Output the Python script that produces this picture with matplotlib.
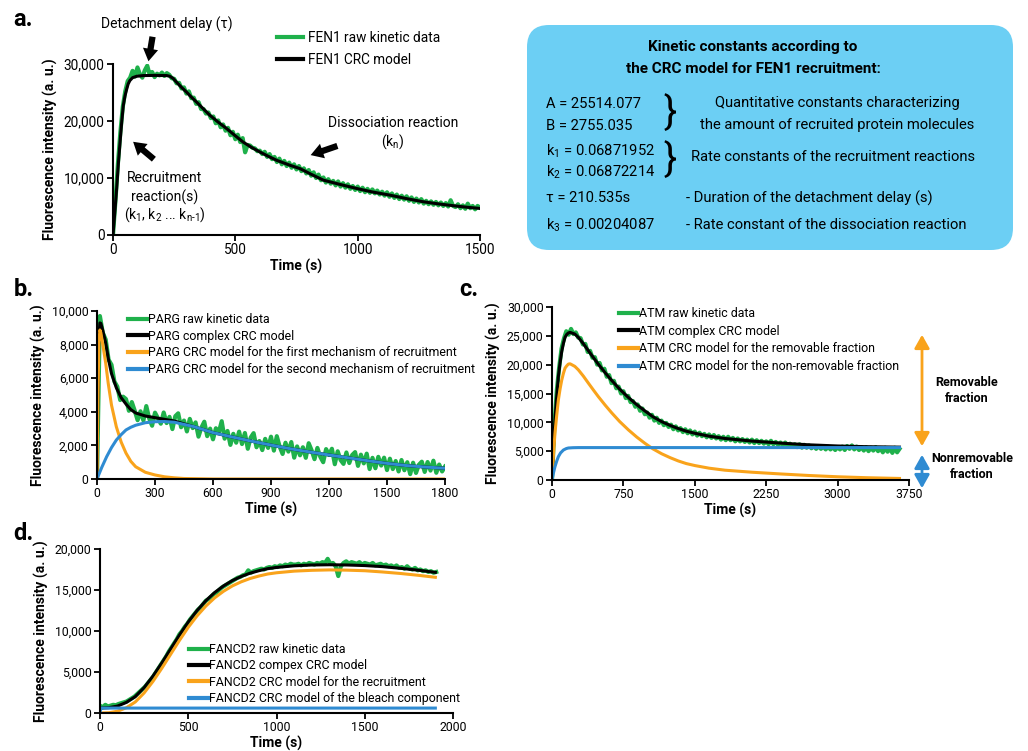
import numpy as np
import matplotlib
matplotlib.use("Agg")
import matplotlib.pyplot as plt
from matplotlib.patches import FancyBboxPatch, FancyArrowPatch
from matplotlib.lines import Line2D

# ------------------------------------------------------------------ data
GREEN = '#1fb14b'; BLACK = '#000000'; ORANGE = '#f9a31b'; BLUE = '#2f8bd2'; BOXC = '#6ccff4'

# a. FEN1
fen1_raw_t = np.arange(0, 1501, 10)
fen1_raw = [
    0, 6000, 12500, 18000, 22500, 25200, 27000, 27600, 28800, 27800,
    29400, 28200, 27600, 28900, 29700, 28100, 28600, 27700, 28300, 28000,
    28500, 27900, 28400, 28100, 27500, 27400, 26600, 26700, 25700, 25900,
    24800, 25200, 24000, 24100, 23000, 23300, 22100, 22100, 21300, 21500,
    20500, 20800, 19600, 20100, 18900, 19400, 18300, 18800, 17500, 18100,
    16800, 17600, 16300, 17000, 14500, 15800, 15700, 15300, 15200, 14700,
    14800, 14200, 14600, 13700, 14200, 13300, 13700, 12800, 13400, 12400,
    13000, 12100, 12700, 11800, 12400, 11500, 12100, 11200, 11700, 10800,
    11400, 10400, 11000, 10000, 10600, 9600, 10100, 9200, 9800, 9000,
    9500, 8700, 9400, 8500, 9100, 8300, 8900, 8100, 8600, 7900,
    8500, 7700, 8300, 7500, 8100, 7400, 8000, 7300, 7800, 7100,
    7600, 6900, 7500, 6700, 7300, 6500, 7100, 6300, 6900, 6200,
    6800, 6000, 6600, 5800, 6400, 5700, 6300, 5500, 6000, 5400,
    5900, 5300, 5800, 5200, 5700, 5100, 5600, 5000, 6100, 5100,
    4900, 5400, 4700, 5200, 4600, 5500, 4700, 5100, 4500, 5100,
    4800]
fen1_model_t = [0, 8, 15, 22, 30, 36, 42, 49, 56, 62, 69, 80, 97, 124, 170, 219, 232, 245,
                260, 280, 301, 320, 342, 370, 396, 430, 465, 500, 532, 565, 601, 635, 669,
                723, 764, 810, 860, 930, 996, 1060, 1132, 1200, 1268, 1335, 1405, 1450, 1500]
fen1_model = [0, 4300, 8200, 12600, 16900, 20000, 22700, 24400, 25600, 26500, 27100, 27600,
              27850, 27970, 28000, 27970, 27850, 27500, 26800, 25900, 25050, 24200, 23300,
              22100, 21000, 19800, 18650, 17400, 16300, 15400, 14550, 13800, 13100, 12240,
              11650, 10650, 9620, 8850, 8160, 7550, 6990, 6380, 5830, 5430, 5070, 4860, 4660]

# b. PARG
parg_raw_t = np.arange(0, 1801, 15)
parg_raw = [
    0, 9700, 8700, 8300, 7100, 6800, 5800, 5500, 4700, 4900,
    4760, 4060, 4580, 4070, 3500, 4030, 3480, 4340, 3600, 3170,
    3950, 3620, 3290, 3960, 3330, 3700, 2970, 3740, 3910, 3080,
    3480, 2830, 3580, 3030, 3370, 2520, 3060, 3410, 2550, 3000,
    2360, 3020, 2780, 3440, 2400, 2860, 2030, 2690, 2160, 2820,
    2080, 2740, 1800, 2470, 2730, 1890, 2260, 1720, 2390, 1850,
    2520, 1690, 2550, 1920, 1490, 2160, 1630, 2200, 1270, 1940,
    1410, 1890, 1260, 2130, 1710, 1180, 1850, 1320, 1000, 1780,
    1430, 1800, 880, 1650, 1130, 900, 1580, 950, 1430, 1600,
    780, 1450, 930, 1510, 590, 1260, 640, 1320, 800, 1270,
    530, 1210, 590, 1070, 450, 1130, 520, 1000, 290, 970,
    360, 850, 1030, 420, 1010, 500, 1090, 370, 860, 450,
    740]
parg_model_t = [0, 5, 10, 15, 20, 30, 45, 58, 75, 100, 125, 150, 175, 200, 250, 300, 350, 400,
                450, 500, 600, 700, 800, 900, 1000, 1100, 1200, 1300, 1400, 1500, 1600, 1700, 1800]
parg_model = [0, 5140, 8480, 9290, 9260, 8840, 8100, 7200, 6270, 5430, 4840, 4460, 4130, 3930,
              3750, 3650, 3550, 3450, 3280, 3120, 2760, 2500, 2250, 2020, 1800, 1610, 1430,
              1260, 1090, 930, 800, 710, 640]
parg_first_t = [0, 5, 10, 15, 20, 30, 45, 58, 75, 100, 125, 150, 175, 200, 250, 300, 350, 400,
                450, 600, 1800]
parg_first = [0, 5000, 8200, 8870, 8700, 8000, 6900, 5700, 4400, 3110, 2200, 1540, 1050, 730,
              400, 240, 130, 70, 30, 0, 0]
parg_second_t = [0, 25, 50, 75, 100, 125, 150, 175, 200, 250, 300, 350, 400, 500, 600, 700, 800,
                 900, 1000, 1100, 1200, 1300, 1400, 1500, 1600, 1700, 1800]
parg_second = [0, 700, 1330, 1870, 2320, 2640, 2920, 3080, 3200, 3350, 3410, 3420, 3380, 3120,
               2760, 2500, 2250, 2020, 1800, 1610, 1430, 1260, 1090, 930, 800, 710, 640]

# c. ATM
atm_raw_t = np.arange(0, 3651, 25)
atm_raw = [
    0, 9500, 15500, 19500, 22800, 24500, 25800, 25200, 26200, 25300,
    25600, 24700, 24600, 23500, 23600, 22200, 22400, 21200, 21300, 20000,
    20300, 19000, 19300, 17900, 18200, 16800, 17200, 15900, 16200, 15000,
    15400, 14200, 14600, 13500, 13700, 12700, 13100, 12000, 12400, 11400,
    11700, 10800, 11300, 10300, 10800, 9900, 10300, 9500, 9900, 9200,
    9600, 8800, 9300, 8600, 9000, 8300, 8800, 8100, 8600, 7900,
    8400, 7700, 8200, 7600, 8000, 7400, 7900, 7300, 7800, 7200,
    7600, 7000, 7500, 6900, 7500, 6900, 7300, 6700, 7200, 6700,
    7100, 6600, 7000, 6500, 7000, 6400, 6900, 6400, 6800, 6300,
    6700, 6200, 6800, 6200, 6600, 6100, 6500, 6000, 6500, 5900,
    6300, 5800, 6200, 5700, 6200, 5600, 6100, 5600, 6000, 5500,
    5900, 5400, 5900, 5400, 5800, 5300, 5800, 5300, 5700, 5200,
    5700, 5300, 5800, 5200, 5900, 5400, 6000, 5300, 5800, 5200,
    5700, 5100, 5700, 5000, 5600, 5100, 5700, 5000, 5500, 4800,
    5600, 4900, 5500, 4700, 5600, 4800, 5400]
atm_model_t = [0, 15, 31, 50, 67, 85, 102, 120, 137, 155, 172, 190, 207, 240, 277, 330, 382, 435,
               487, 560, 627, 710, 802, 890, 977, 1060, 1152, 1240, 1327, 1410, 1502, 1650, 1817,
               2100, 2400, 2700, 3000, 3300, 3650]
atm_model = [0, 5500, 10400, 14600, 17950, 20350, 22250, 23700, 24750, 25250, 25500, 25600,
             25500, 25310, 24720, 23620, 22420, 21220, 20070, 18570, 17270, 15770, 14320, 13070,
             11970, 10970, 10120, 9470, 8920, 8470, 8100, 7600, 7200, 6750, 6400, 6100, 5900,
             5780, 5700]
atm_removable = [0, 4300, 8100, 11300, 13900, 15800, 17300, 18500, 19400, 19800, 20100, 20150,
                 20000, 19700, 19100, 18000, 16800, 15600, 14450, 12950, 11650, 10150, 8700,
                 7450, 6350, 5400, 4550, 3880, 3300, 2850, 2500, 2050, 1700, 1350, 1050, 780,
                 560, 400, 270]
atm_nonrem_t = [0, 15, 31, 50, 67, 90, 120, 150, 172, 220, 277, 3650]
atm_nonrem = [0, 1200, 2300, 3300, 4050, 4700, 5200, 5450, 5550, 5600, 5620, 5620]

# d. FANCD2
fancd2_raw_t = np.arange(0, 1906, 15)
fancd2_raw = [
    900, 700, 1000, 800, 900, 1000, 950, 1100, 1200, 1300,
    1400, 1600, 1800, 2000, 2300, 2600, 2900, 3200, 3600, 4000,
    4400, 4900, 5400, 5900, 6400, 6900, 7500, 8000, 8500, 9000,
    9600, 10000, 10500, 10900, 11400, 11800, 12200, 12600, 12900, 13300,
    13700, 13900, 14200, 14500, 14700, 15000, 15300, 15500, 15700, 15900,
    16100, 16300, 16500, 16600, 16800, 16900, 17400, 17100, 17300, 17400,
    17500, 17600, 17500, 17700, 17800, 17700, 17900, 17800, 18000, 17900,
    18100, 18000, 18200, 18100, 18100, 18200, 18000, 18200, 18100, 18300,
    18200, 18100, 18300, 18200, 18400, 18300, 18800, 18200, 18300, 17900,
    16700, 17900, 18300, 18500, 18200, 18400, 18300, 18200, 18400, 18100,
    18300, 18200, 18100, 18300, 18000, 18100, 18200, 18000, 18100, 17900,
    18000, 17800, 18000, 17700, 17800, 17600, 17900, 17600, 17500, 17700,
    17400, 17500, 17300, 17400, 17200, 17300, 17100, 17200]
fancd2_model_t = [0, 50, 100, 150, 200, 250, 300, 350, 400, 450, 500, 550, 600, 650, 700, 750,
                  800, 850, 900, 950, 1000, 1100, 1200, 1300, 1400, 1500, 1600, 1700, 1800, 1900]
fancd2_model = [600, 650, 850, 1300, 2000, 3100, 4500, 6100, 7800, 9500, 11100, 12500, 13700,
                14700, 15500, 16150, 16650, 17050, 17350, 17600, 17750, 17950, 18050, 18080,
                18050, 17980, 17850, 17650, 17420, 17150]
fancd2_recruit = [0, 30, 220, 650, 1350, 2450, 3850, 5450, 7150, 8850, 10450, 11850, 13050,
                  14050, 14850, 15500, 16000, 16400, 16700, 16950, 17100, 17300, 17400, 17450,
                  17420, 17350, 17200, 17020, 16800, 16550]
fancd2_bleach_t = [0, 5, 1900]
fancd2_bleach = [0, 600, 600]

# ------------------------------------------------------------------ figure
plt.rcParams['font.family'] = ['Roboto', 'DejaVu Sans']
plt.rcParams['mathtext.default'] = 'regular'

W, H = 1028, 751
fig = plt.figure(figsize=(W / 100, H / 100), dpi=100)

ov = fig.add_axes([0, 0, 1, 1], zorder=10)
ov.set_xlim(0, W)
ov.set_ylim(H, 0)
ov.axis('off')


def axes_px(l, t, r, b):
    return fig.add_axes([l / W, 1 - b / H, (r - l) / W, (b - t) / H])


def style(ax, xlim, ylim, xticks, yticks, ticksize):
    ax.set_xlim(xlim)
    ax.set_ylim(ylim)
    for s in ['top', 'right']:
        ax.spines[s].set_visible(False)
    for s in ['left', 'bottom']:
        ax.spines[s].set_linewidth(1.5)
    ax.set_xticks(xticks)
    ax.set_yticks(yticks)
    ax.set_yticklabels(['{:,}'.format(v) for v in yticks])
    ax.tick_params(width=1.3, length=4, labelsize=ticksize, pad=2)
    ax.set_xlabel('Time (s)', fontweight='bold', fontsize=10, labelpad=1)
    ax.set_ylabel('Fluorescence intensity (a. u.)', fontweight='bold', fontsize=10, labelpad=4)
    ax.patch.set_alpha(0)


def legend(ax, labels, colors, x, y, fs, spacing, hl, pad=0.1):
    handles = [Line2D([], [], color=c, lw=3) for c in colors]
    ax.legend(handles, labels, loc='upper left', bbox_to_anchor=(x, y),
              bbox_transform=ov.transData, frameon=False, fontsize=fs,
              handlelength=hl, handletextpad=pad, labelspacing=spacing,
              borderpad=0, borderaxespad=0)


RAW_LW = 3.0
MOD_LW = 2.2

# ---- a
axa = axes_px(113, 64, 480, 235)
axa.plot(fen1_raw_t, fen1_raw, color=GREEN, lw=RAW_LW)
axa.plot(fen1_model_t, fen1_model, color=BLACK, lw=MOD_LW)
style(axa, (0, 1500), (0, 30000), [0, 500, 1000, 1500], [0, 10000, 20000, 30000], 9.8)
legend(axa, ['FEN1 raw kinetic data', 'FEN1 CRC model'], [GREEN, BLACK], 277, 31, 9.8, 0.6, 1.9, 0.4)

# ---- b
axb = axes_px(97, 311, 445, 479)
axb.plot(parg_raw_t, parg_raw, color=GREEN, lw=RAW_LW)
axb.plot(parg_model_t, parg_model, color=BLACK, lw=MOD_LW)
axb.plot(parg_first_t, parg_first, color=ORANGE, lw=MOD_LW)
axb.plot(parg_second_t, parg_second, color=BLUE, lw=MOD_LW)
style(axb, (0, 1800), (0, 10000), [0, 300, 600, 900, 1200, 1500, 1800],
      [0, 2000, 4000, 6000, 8000, 10000], 8.8)
legend(axb, ['PARG raw kinetic data', 'PARG complex CRC model',
             'PARG CRC model for the first mechanism of recruitment',
             'PARG CRC model for the second mechanism of recruitment'],
       [GREEN, BLACK, ORANGE, BLUE], 128, 313, 8.9, 0.3, 1.55)

# ---- c
axc = axes_px(552, 307, 909, 480)
axc.plot(atm_raw_t, atm_raw, color=GREEN, lw=RAW_LW)
axc.plot(atm_model_t, atm_model, color=BLACK, lw=MOD_LW)
axc.plot(atm_model_t, atm_removable, color=ORANGE, lw=MOD_LW)
axc.plot(atm_nonrem_t, atm_nonrem, color=BLUE, lw=MOD_LW)
style(axc, (0, 3750), (0, 30000), [0, 750, 1500, 2250, 3000, 3750],
      [0, 5000, 10000, 15000, 20000, 25000, 30000], 8.8)
legend(axc, ['ATM raw kinetic data', 'ATM complex CRC model',
             'ATM CRC model for the removable fraction',
             'ATM CRC model for the non-removable fraction'],
       [GREEN, BLACK, ORANGE, BLUE], 619, 307, 8.9, 0.38, 1.55)

# ---- d
axd = axes_px(100, 549, 453, 713)
axd.plot(fancd2_raw_t, fancd2_raw, color=GREEN, lw=RAW_LW)
axd.plot(fancd2_model_t, fancd2_model, color=BLACK, lw=MOD_LW)
axd.plot(fancd2_model_t, fancd2_recruit, color=ORANGE, lw=MOD_LW)
axd.plot(fancd2_bleach_t, fancd2_bleach, color=BLUE, lw=MOD_LW)
style(axd, (0, 2000), (0, 20000), [0, 500, 1000, 1500, 2000],
      [0, 5000, 10000, 15000, 20000], 8.8)
legend(axd, ['FANCD2 raw kinetic data', 'FANCD2 compex CRC model',
             'FANCD2 CRC model for the recruitment',
             'FANCD2 CRC model of the bleach component'],
       [GREEN, BLACK, ORANGE, BLUE], 189, 643, 8.9, 0.27, 1.55)

# ---- panel letters
for s, x, y in [('a.', 13, 20), ('b.', 14, 289), ('c.', 459, 289), ('d.', 13, 534)]:
    ov.text(x, y, s, fontsize=17, fontweight='bold', ha='left', va='center')

# ---- annotations in a
ov.text(167, 24, 'Detachment delay (τ)', fontsize=10, ha='center', va='center')
ov.text(165, 178, 'Recruitment', fontsize=10, ha='center', va='center')
ov.text(165, 197, 'reaction(s)', fontsize=10, ha='center', va='center')
ov.text(165, 215, '(k$_1$, k$_2$ ... k$_{n\u20111}$)', fontsize=10, ha='center', va='center')
ov.text(393, 123, 'Dissociation reaction', fontsize=10, ha='center', va='center')
ov.text(393, 142, '(k$_n$)', fontsize=10, ha='center', va='center')


def fat_arrow(p0, p1):
    ov.add_patch(FancyArrowPatch(p0, p1, arrowstyle='simple,head_length=0.9,head_width=1.1,tail_width=0.45',
                                 mutation_scale=10, color='k', lw=0))


fat_arrow((153, 34), (148, 64))
fat_arrow((156, 161), (131, 140))
fat_arrow((340, 145), (308, 156))

# ---- panel c fraction arrows
ov.add_patch(FancyArrowPatch((922, 332), (922, 449), arrowstyle='<|-|>,head_length=0.8,head_width=0.45',
                             mutation_scale=10, color=ORANGE, lw=2))
ov.add_patch(FancyArrowPatch((922, 452), (922, 491), arrowstyle='<|-|>,head_length=0.8,head_width=0.45',
                             mutation_scale=10, color=BLUE, lw=2))
ov.text(967, 383, 'Removable', fontsize=9, fontweight='bold', ha='center', va='center')
ov.text(967, 399, 'fraction', fontsize=9, fontweight='bold', ha='center', va='center')
ov.text(972, 458, 'Nonremovable', fontsize=9, fontweight='bold', ha='center', va='center')
ov.text(972, 474, 'fraction', fontsize=9, fontweight='bold', ha='center', va='center')

# ---- kinetic constants box
ov.add_patch(FancyBboxPatch((527, 25), 486, 225, boxstyle='round,pad=0,rounding_size=22',
                            fc=BOXC, ec='none'))
ov.text(753, 47, 'Kinetic constants according to', fontsize=11, fontweight='bold',
        ha='center', va='center')
ov.text(753, 69, 'the CRC model for FEN1 recruitment:', fontsize=11, fontweight='bold',
        ha='center', va='center')
fs = 10.6
for s, y in [('A = 25514.077', 104), ('B = 2755.035', 126), ('k$_1$ = 0.06871952', 151),
             ('k$_2$ = 0.06872214', 172), ('τ = 210.535s', 198), ('k$_3$ = 0.00204087', 225)]:
    ov.text(546, y, s, fontsize=fs, ha='left', va='center')
ov.text(670, 113, '}', fontsize=28, ha='center', va='center')
ov.text(670, 160, '}', fontsize=28, ha='center', va='center')
ov.text(837, 103, 'Quantitative constants characterizing', fontsize=fs, ha='center', va='center')
ov.text(837, 125, 'the amount of recruited protein molecules', fontsize=fs, ha='center', va='center')
ov.text(691, 157, 'Rate constants of the recruitment reactions', fontsize=fs, ha='left', va='center')
ov.text(686, 198, '- Duration of the detachment delay (s)', fontsize=fs, ha='left', va='center')
ov.text(686, 225, '- Rate constant of the dissociation reaction', fontsize=fs, ha='left', va='center')

fig.savefig('out.png', dpi=100)
